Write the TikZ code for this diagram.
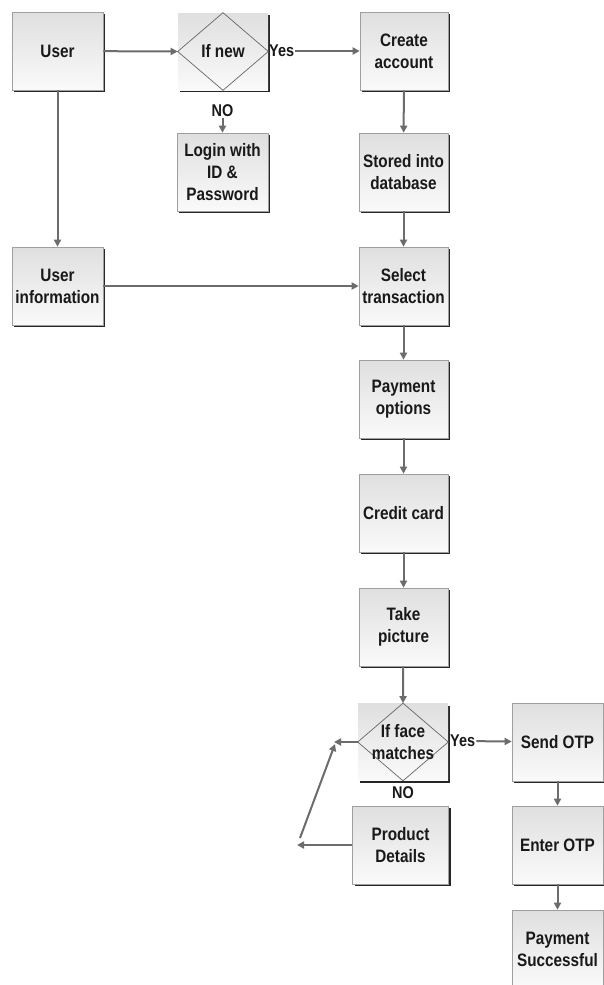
\documentclass[tikz,border=0pt]{standalone}
\usepackage{fontspec}
\newfontfamily\nar{Liberation Sans}[FakeStretch=0.85]
\usetikzlibrary{arrows.meta,shadows}
\begin{document}
\begin{tikzpicture}[x=1pt,y=-1pt,
  box/.style={draw=gray!75, line width=0.6pt, top color=gray!25, bottom color=gray!4,
    general shadow={shadow xshift=2.2pt, shadow yshift=-2.2pt, fill=black!85},
    minimum width=91pt, minimum height=78pt, inner sep=1pt, align=center,
    font=\nar\bfseries\fontsize{18}{22}\selectfont, text=black!90},
  dbox/.style={box, draw=none},
  dline/.style={draw=gray!80!black, line width=0.7pt},
  lbl/.style={font=\nar\bfseries\fontsize{17}{20}\selectfont, inner sep=1pt, text=black!90},
  conn/.style={draw=gray!85!black, line width=2pt},
  arr/.style={conn, -{Triangle[length=7pt,width=7pt]}}
]
\useasboundingbox (0,0) rectangle (603,985);
\fill[white] (0,0) rectangle (603,985);

% nodes
\node[box] (user) at (57.5,51) {User};
\node[dbox, minimum width=90pt, minimum height=77pt] (ifnew) at (223,51.5) {};
\draw[dline] (ifnew.west) -- (ifnew.north) -- (ifnew.east) -- (ifnew.south) -- cycle;
\node[font=\nar\bfseries\fontsize{18}{22}\selectfont, text=black!90] (ifnewt) at (ifnew.center) {If new};
\node[box, minimum width=88pt] (create) at (404,51) {Create\\account};
\node[box] (login) at (222.5,172) {Login with\\ID \&\\Password};
\node[box, minimum width=89pt] (stored) at (403.5,172) {Stored into\\database};
\node[box] (uinfo) at (57.5,286) {User\\information};
\node[box, minimum width=89pt] (select) at (403.5,286) {Select\\transaction};
\node[box, minimum width=89pt] (payopt) at (403.5,399) {Payment\\options};
\node[box, minimum width=89pt] (credit) at (403.5,513) {Credit card};
\node[box, minimum width=89pt] (take) at (403.5,627) {Take\\picture};
\node[dbox, minimum width=90pt, minimum height=77pt] (ifface) at (403,742) {};
\draw[dline] (ifface.west) -- (ifface.north) -- (ifface.east) -- (ifface.south) -- cycle;
\node[font=\nar\bfseries\fontsize{18}{22}\selectfont, text=black!90, align=center] (iffacet) at (ifface.center) {If face\\matches};
\node[box] (sendotp) at (557.5,742) {Send OTP};
\node[box, minimum width=96pt] (prod) at (400.5,845) {Product\\Details};
\node[box] (enterotp) at (557.5,845) {Enter OTP};
\node[box] (paysucc) at (557.5,949) {Payment\\Successful};

% labels
\node[lbl, anchor=west] (yes1) at (268,51) {Yes};
\node[lbl] (no1) at (222.5,111) {NO};
\node[lbl, anchor=west] (yes2) at (449,741) {Yes};
\node[lbl] (no2) at (403,793) {NO};

% free ends
\coordinate (c1) at (334,742);
\coordinate (c2) at (297,845);
\coordinate (c3) at (300,838);
\coordinate (c4) at (335,744);

% connectors
\draw[arr] (user) -- (ifnew.west);
\draw[arr] (yes1) -- (create);
\draw[arr] (no1) -- (login);
\draw[arr] (user) -- (uinfo);
\draw[arr] (uinfo) -- (select);
\draw[arr] (create) -- (stored);
\draw[arr] (stored) -- (select);
\draw[arr] (select) -- (payopt);
\draw[arr] (payopt) -- (credit);
\draw[arr] (credit) -- (take);
\draw[arr] (take) -- (ifface.north);
\draw[arr] (yes2) -- (sendotp);
\draw[arr] (sendotp) -- (enterotp);
\draw[arr] (enterotp) -- (paysucc);
\draw[arr] (ifface.west) -- (c1);
\draw[arr] (prod) -- (c2);
\draw[arr] (c3) -- (c4);
\end{tikzpicture}
\end{document}
